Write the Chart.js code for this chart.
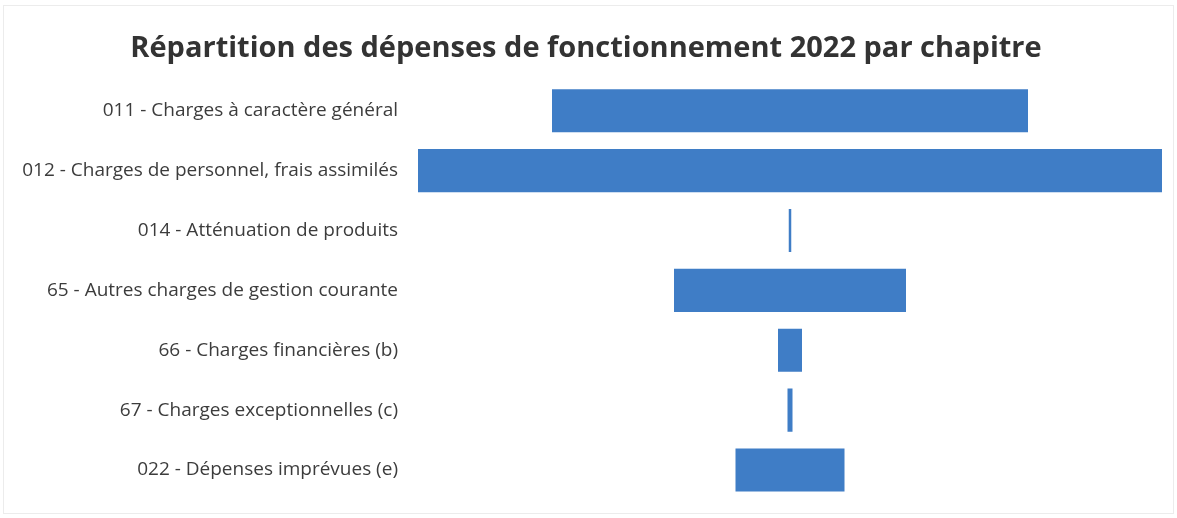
<!DOCTYPE html>
<html lang="fr">
<head>
<meta charset="utf-8">
<title>Dépenses de fonctionnement 2022</title>
<script src="https://cdn.jsdelivr.net/npm/chart.js@4/dist/chart.umd.min.js"></script>
<style>
  html, body { margin: 0; padding: 0; background: #fff; }
  #wrap { width: 1177px; height: 518px; position: relative; }
  #cadre {
    position: absolute; left: 3px; top: 5px; width: 1169px; height: 507px;
    border: 1px solid #ececec; pointer-events: none;
  }
</style>
</head>
<body>
<div id="wrap">
  <div id="cadre"></div>
  <canvas id="funnel"></canvas>
</div>
<script>
// Chapitres budgétaires (section de fonctionnement)
var chapitres = [
    '011 - Charges à caractère général',
    '012 - Charges de personnel, frais assimilés',
    '014 - Atténuation de produits',
    '65 - Autres charges de gestion courante',
    '66 - Charges financières (b)',
    '67 - Charges exceptionnelles (c)',
    '022 - Dépenses imprévues (e)'
];

// Montants par chapitre (k€)
var montants = [476, 744, 2.5, 232, 24, 5, 109];

var titre = 'Répartition des dépenses de fonctionnement 2022 par chapitre';

// Entonnoir : chaque barre est centrée sur zéro
var barres = montants.map(function (v) { return [-v / 2, v / 2]; });
var demiMax = Math.max.apply(null, montants) / 2;

new Chart(document.getElementById('funnel'), {
    type: 'bar',
    data: {
        labels: chapitres,
        datasets: [{
            data: barres,
            backgroundColor: '#3f7dc6',
            borderWidth: 0,
            barPercentage: 0.72,
            categoryPercentage: 1
        }]
    },
    options: {
        indexAxis: 'y',
        responsive: true,
        maintainAspectRatio: false,
        animation: false,
        layout: { padding: { top: 21, right: 15, bottom: 18, left: 10 } },
        plugins: {
            legend: { display: false },
            tooltip: { enabled: false },
            title: {
                display: true,
                text: titre,
                color: '#333333',
                font: { family: 'Open Sans', size: 29, weight: 'bold' },
                padding: { top: 10, bottom: 15 }
            }
        },
        scales: {
            x: {
                display: false,
                min: -demiMax,
                max: demiMax
            },
            y: {
                grid: { display: false },
                border: { display: false },
                ticks: {
                    color: '#3c3c3c',
                    padding: 12,
                    font: { family: 'Open Sans', size: 19 }
                },
                afterFit: function (scale) {
                    scale.width = 408;
                    scale.paddingTop = 0;
                    scale.paddingBottom = 0;
                }
            }
        }
    }
});
</script>
</body>
</html>
